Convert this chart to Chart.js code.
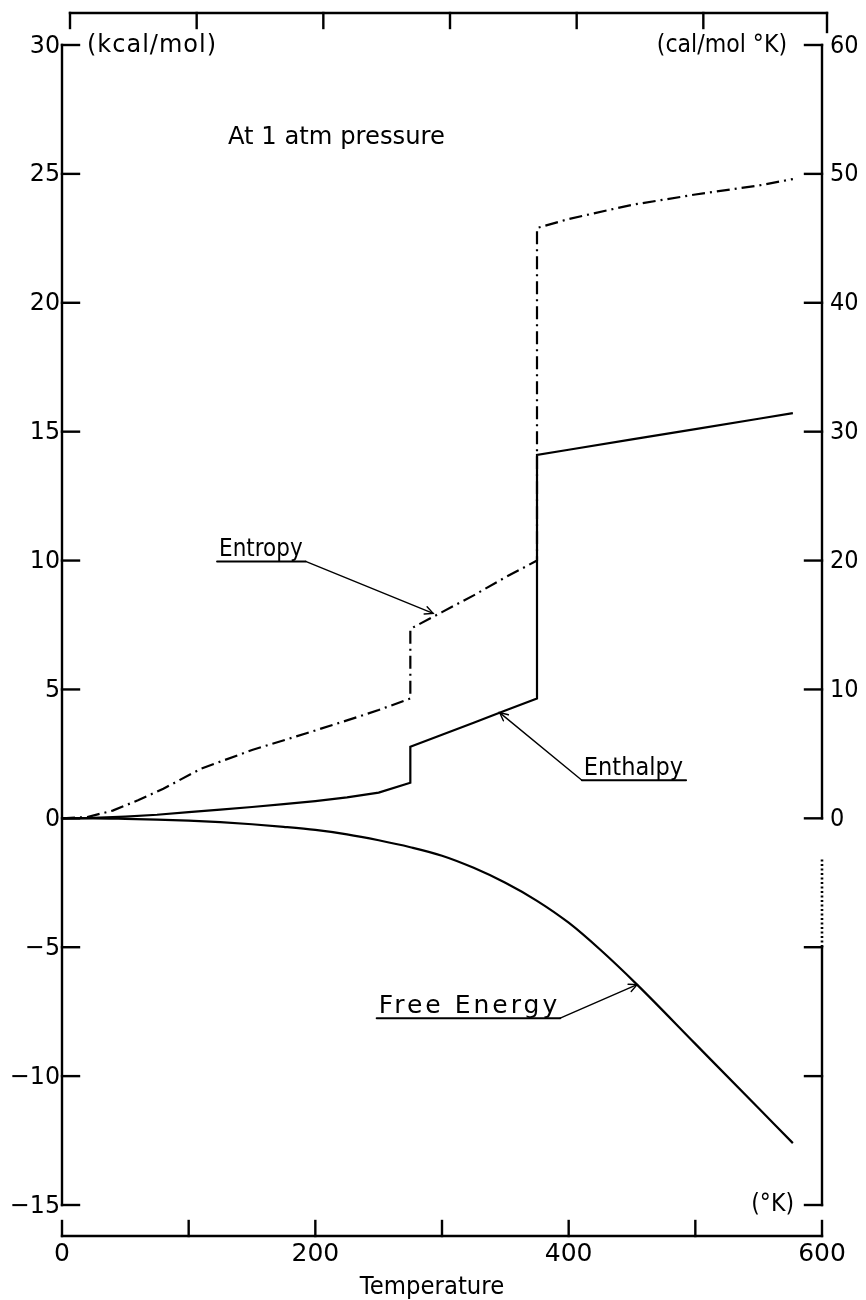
<!DOCTYPE html>
<html>
<head>
<meta charset="utf-8">
<script src="https://cdn.jsdelivr.net/npm/chart.js@4.4.1/dist/chart.umd.min.js"></script>
<style>
  html, body { margin: 0; padding: 0; background: #ffffff; }
  #wrap { width: 866px; height: 1300px; }
</style>
</head>
<body>
<div id="wrap"><canvas id="c" width="866" height="1300"></canvas></div>
<script>
// ---------- data ----------
const temperatureTicks = [0, 100, 200, 300, 400, 500, 600];
const temperatureLabels = ['0', '', '200', '', '400', '', '600'];
const kcalTicks = [30, 25, 20, 15, 10, 5, 0, -5, -10, -15];
const entropyTicks = [60, 50, 40, 30, 20, 10, 0];
const lowerRightTicks = [-5, -10, -15];

// Enthalpy (kcal/mol) vs temperature (K)
const enthalpyT = [0, 25, 50, 75, 100, 125, 150, 175, 200, 225, 250, 275, 275, 300, 325, 350, 375, 375, 400, 450, 500, 550, 577];
const enthalpyH = [0, 0.02, 0.07, 0.14, 0.24, 0.34, 0.44, 0.55, 0.67, 0.81, 1.0, 1.38, 2.78, 3.24, 3.71, 4.18, 4.65, 14.1, 14.3, 14.7, 15.1, 15.5, 15.72];

// Entropy (cal/mol K) vs temperature (K)
const entropyT = [0, 20, 40, 60, 80, 110, 150, 193, 225, 250, 275, 275, 300, 325, 350, 375, 375, 400, 450, 500, 550, 577];
const entropyS = [0, 0.1, 0.6, 1.4, 2.3, 3.86, 5.3, 6.6, 7.6, 8.4, 9.3, 14.7, 16.0, 17.3, 18.7, 20.0, 45.8, 46.5, 47.6, 48.4, 49.1, 49.6];

// Free energy (kcal/mol) vs temperature (K)
const freeEnergyT = [0, 25, 50, 75, 100, 125, 150, 175, 200, 225, 250, 275, 300, 325, 350, 375, 400, 425, 454, 500, 550, 577];
const freeEnergyG = [0, 0, -0.02, -0.05, -0.09, -0.15, -0.23, -0.33, -0.45, -0.62, -0.85, -1.12, -1.45, -1.92, -2.5, -3.2, -4.05, -5.1, -6.45, -8.75, -11.25, -12.6];

// ---------- text annotations (data coordinates) ----------
const FONT = '"DejaVu Sans", "Liberation Sans", sans-serif';
const notes = {
  pressure: { text: 'At 1 atm pressure', x: 131, y: 26.4 },
  entropy: { text: 'Entropy', x: 124, base: 10.16, tipX: 293, tipY: 15.9, from: 'right', size: 25, hs: 0.86, sp: 0 },
  enthalpy: { text: 'Enthalpy', x: 412, base: 1.67, tipX: 345.5, tipY: 4.1, from: 'left', size: 25, hs: 0.9, sp: 0 },
  freeEnergy: { text: 'Free Energy', x: 250, base: -7.56, tipX: 454, tipY: -6.45, from: 'right', size: 25, hs: 1, sp: 3 }
};

const toXY = (xs, ys) => xs.map((t, i) => ({ x: t, y: ys[i] }));

function line(ctx, x1, y1, x2, y2) {
  ctx.beginPath(); ctx.moveTo(x1, y1); ctx.lineTo(x2, y2); ctx.stroke();
}

// draws text with optional horizontal squeeze; returns drawn width
function txt(ctx, s, x, y, o) {
  const size = o.size || 25, hs = o.hs || 1, sp = o.sp || 0;
  ctx.save();
  ctx.font = size + 'px ' + FONT;
  ctx.letterSpacing = sp + 'px';
  ctx.textAlign = 'left';
  ctx.textBaseline = o.baseline || 'middle';
  const w = (ctx.measureText(s).width - sp) * hs;
  const x0 = o.align === 'right' ? x - w : (o.align === 'center' ? x - w / 2 : x);
  ctx.translate(x0, y);
  ctx.scale(hs, 1);
  ctx.fillText(s, 0, 0);
  ctx.restore();
  return w;
}

function arrowHead(ctx, fx, fy, tx, ty) {
  const a = Math.atan2(ty - fy, tx - fx);
  const len = 9, spread = 0.45;
  ctx.beginPath();
  ctx.moveTo(tx - len * Math.cos(a - spread), ty - len * Math.sin(a - spread));
  ctx.lineTo(tx, ty);
  ctx.lineTo(tx - len * Math.cos(a + spread), ty - len * Math.sin(a + spread));
  ctx.stroke();
}

const framePlugin = {
  id: 'frame',
  afterDatasetsDraw(chart) {
    const { ctx } = chart;
    const sx = chart.scales.x, sy = chart.scales.y, s2 = chart.scales.y2;
    const L = sx.getPixelForValue(0), R = sx.getPixelForValue(600);
    const T = sy.getPixelForValue(30), B = sy.getPixelForValue(-15);
    const TICK = 17;
    ctx.save();
    ctx.strokeStyle = '#000'; ctx.fillStyle = '#000';
    ctx.lineWidth = 2.4; ctx.lineCap = 'square';
    const fmt = v => String(v).replace('-', '\u2212');

    // left axis
    line(ctx, L, T, L, B);
    kcalTicks.forEach(v => {
      const py = sy.getPixelForValue(v);
      line(ctx, L, py, L + TICK, py);
      txt(ctx, fmt(v), L - 2, py + 1, { size: 25, hs: 0.95, align: 'right' });
    });

    // right axis (upper, entropy)
    const R0 = s2.getPixelForValue(0);
    line(ctx, R, T, R, R0);
    entropyTicks.forEach(v => {
      const py = s2.getPixelForValue(v);
      line(ctx, R - TICK, py, R, py);
      txt(ctx, String(v), R + 8, py + 1, { size: 25, hs: 0.9, align: 'left' });
    });
    // dotted break
    ctx.save();
    ctx.lineWidth = 2.6; ctx.lineCap = 'butt'; ctx.setLineDash([2, 2.5]);
    line(ctx, R, sy.getPixelForValue(-1.6), R, sy.getPixelForValue(-5));
    ctx.restore();
    // right axis (lower)
    line(ctx, R, sy.getPixelForValue(-5), R, B);
    lowerRightTicks.forEach(v => {
      const py = sy.getPixelForValue(v);
      line(ctx, R - TICK, py, R, py);
    });
    txt(ctx, '(\u00b0K)', R - 28, B, { size: 24, hs: 0.92, align: 'right' });

    // units
    txt(ctx, '(kcal/mol)', L + 25, T + 1, { size: 24, hs: 1, sp: 1, align: 'left' });
    txt(ctx, '(cal/mol \u00b0K)', R - 35, T + 1, { size: 24, hs: 0.92, align: 'right' });

    // bottom axis (offset below the plot)
    const XB = B + 31;
    line(ctx, L, XB, R, XB);
    temperatureTicks.forEach((t, i) => {
      const px = sx.getPixelForValue(t);
      line(ctx, px, XB, px, XB - 15);
      if (temperatureLabels[i]) txt(ctx, temperatureLabels[i], px, XB + 18, { size: 25, hs: 1, align: 'center' });
    });
    txt(ctx, 'Temperature', (L + R) / 2 - 10, XB + 52, { size: 24, hs: 0.95, align: 'center' });

    // top bracket
    const XT = T - 32;
    line(ctx, L + 8, XT, R + 5, XT);
    temperatureTicks.forEach(t => {
      const px = sx.getPixelForValue(t) + (t === 600 ? 5 : 8);
      line(ctx, px, XT, px, XT + (t === 600 ? 19 : 15));
    });

    // annotation texts
    txt(ctx, notes.pressure.text, sx.getPixelForValue(notes.pressure.x), sy.getPixelForValue(notes.pressure.y),
        { size: 25, hs: 0.97, align: 'left' });

    ctx.lineCap = 'round';
    ['entropy', 'enthalpy', 'freeEnergy'].forEach(k => {
      const n = notes[k];
      const px = sx.getPixelForValue(n.x), py = sy.getPixelForValue(n.base);
      const w = txt(ctx, n.text, px, py, { size: n.size, hs: n.hs, sp: n.sp, baseline: 'alphabetic', align: 'left' });
      const uy = py + 5;
      ctx.lineWidth = 2;
      line(ctx, px - 2, uy, px + w + 3, uy);
      ctx.lineWidth = 1.4;
      const fx = n.from === 'right' ? px + w + 3 : px - 2;
      const tx = sx.getPixelForValue(n.tipX);
      const ty = k === 'entropy' ? s2.getPixelForValue(n.tipY) : sy.getPixelForValue(n.tipY);
      line(ctx, fx, uy, tx, ty);
      arrowHead(ctx, fx, uy, tx, ty);
    });
    ctx.restore();
  }
};

new Chart(document.getElementById('c'), {
  type: 'line',
  data: {
    datasets: [
      {
        label: 'Enthalpy',
        data: toXY(enthalpyT, enthalpyH),
        yAxisID: 'y',
        borderColor: '#000', borderWidth: 2.2, pointRadius: 0, tension: 0, fill: false
      },
      {
        label: 'Entropy',
        data: toXY(entropyT, entropyS),
        yAxisID: 'y2',
        borderColor: '#000', borderWidth: 2.2, pointRadius: 0, tension: 0, fill: false,
        borderDash: [13, 5, 2, 5]
      },
      {
        label: 'Free Energy',
        data: toXY(freeEnergyT, freeEnergyG),
        yAxisID: 'y',
        borderColor: '#000', borderWidth: 2.2, pointRadius: 0, fill: false,
        cubicInterpolationMode: 'monotone'
      }
    ]
  },
  options: {
    responsive: false,
    animation: false,
    devicePixelRatio: 1,
    layout: { padding: { left: 62, right: 44, top: 45, bottom: 95 } },
    plugins: { legend: { display: false }, tooltip: { enabled: false } },
    scales: {
      x: { type: 'linear', min: 0, max: 600, display: false },
      y: { type: 'linear', min: -15, max: 30, display: false },
      y2: { type: 'linear', min: -30, max: 60, display: false }
    }
  },
  plugins: [framePlugin]
});
</script>
</body>
</html>
